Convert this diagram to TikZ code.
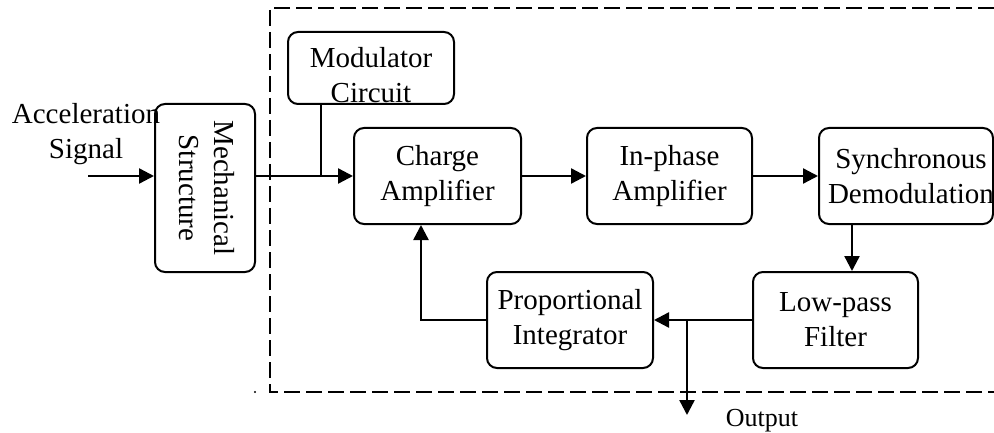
\documentclass[tikz,border=0pt]{standalone}
\usepackage{fontspec}
\setmainfont{Liberation Serif}
\usetikzlibrary{arrows.meta}
\begin{document}
\begin{tikzpicture}[x=1pt,y=-1pt,
  blk/.style={draw,line width=2pt,rounded corners=10pt,inner sep=0pt,align=center,font=\fontsize{29}{35}\selectfont},
  lbl/.style={inner sep=0pt,align=center,font=\fontsize{29}{35}\selectfont},
  con/.style={line width=2.4pt,-{Triangle[length=15pt,width=15pt]}},
  wire/.style={line width=2.4pt},
  frame/.style={line width=2pt,dash pattern=on 16pt off 6pt}]
\useasboundingbox (0,0) rectangle (994,433);
% dashed frame
\draw[frame] (994,8) -- (270,8) -- (270,392) -- (994,392);
\fill (255,392) circle (1.1pt);
% blocks
\node[blk,minimum width=100pt,minimum height=168pt] (mech) at (205,188) {};
\node[lbl,rotate=-90] (mecht) at (207,188) {Mechanical\\Structure};
\node[blk,minimum width=166pt,minimum height=72pt] (mod) at (371,68) {};
\node[lbl] (modt) at (371,75) {Modulator\\Circuit};
\node[blk,minimum width=167pt,minimum height=96pt] (charge) at (437.5,176) {Charge\\Amplifier};
\node[blk,minimum width=165pt,minimum height=96pt] (inph) at (669.5,176) {In-phase\\Amplifier};
\node[blk,minimum width=174pt,minimum height=96pt] (sync) at (906,176) {};
\node[lbl] (synct) at (911,176) {Synchronous\\Demodulation};
\node[blk,minimum width=165pt,minimum height=96pt] (low) at (835.5,320) {Low-pass\\Filter};
\node[blk,minimum width=166pt,minimum height=96pt] (prop) at (570,320) {Proportional\\Integrator};
% labels
\node[lbl] (acc) at (86,134) {Acceleration\\Signal};
\node[lbl,font=\fontsize{26}{30}\selectfont] (outl) at (762,421) {Output};
% coordinates
\coordinate (in) at (88,176);
\coordinate (j1) at (321,176);
\coordinate (xs) at (852,0);
\coordinate (j2) at (687,320);
\coordinate (out) at (687,415);
\coordinate (xf) at (421,0);
% connectors
\draw[con] (in) -- (mech.west |- in);
\draw[con] (mech.east |- charge.west) -- (charge.west);
\draw[wire] (mod.south -| j1) -- (j1);
\draw[con] (charge) -- (inph);
\draw[con] (inph) -- (sync);
\draw[con] (sync.south -| xs) -- (low.north -| xs);
\draw[con] (low) -- (prop);
\draw[con] (j2) -- (out);
\draw[con] (prop.west) -| (charge.south -| xf);
\end{tikzpicture}
\end{document}
